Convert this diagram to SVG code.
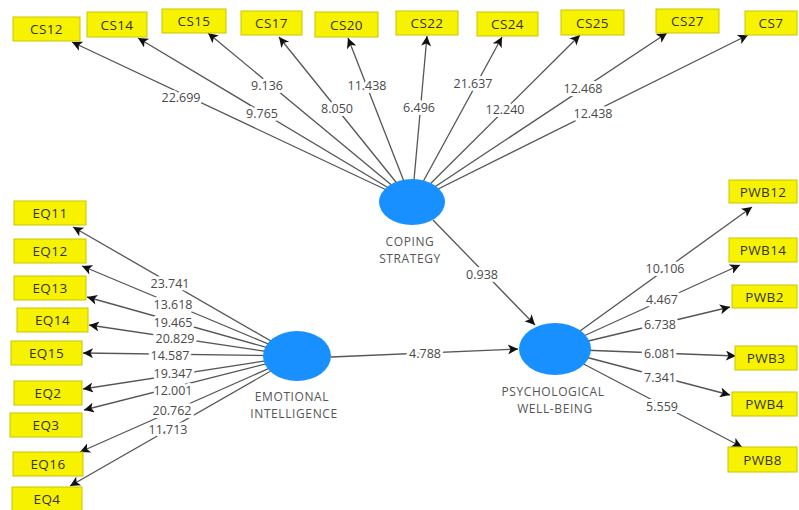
<svg xmlns="http://www.w3.org/2000/svg" width="799" height="510" viewBox="0 0 799 510">
<defs>
<marker id="ah" viewBox="0 0 10 10" refX="10" refY="5" markerWidth="12" markerHeight="10" markerUnits="userSpaceOnUse" orient="auto"><path d="M0,0 L10,5 L0,10 L2.5,5 z" fill="#111"/></marker>
<style>
.box{fill:#f7f200;stroke:#c9c400;stroke-width:1}
.bt{font-family:"Open Sans","Noto Sans",sans-serif;font-size:13.5px;fill:#333;text-anchor:middle;dominant-baseline:central;letter-spacing:0.4px}
.lv{fill:#1890ff}
.lt{font-family:"Open Sans","Noto Sans",sans-serif;font-size:12px;fill:#555;text-anchor:middle;letter-spacing:0.6px}
.e{stroke:#555;stroke-width:1.3;fill:none;marker-end:url(#ah)}
.n{font-family:"Open Sans","Noto Sans",sans-serif;font-size:12.5px;fill:#4a4a4a;text-anchor:middle;dominant-baseline:central;stroke:#fff;stroke-width:6;paint-order:stroke;stroke-linejoin:round}
</style>
</defs>
<rect width="799" height="510" fill="#fff"/>
<g id="connectors">
<line class="e" x1="412" y1="202" x2="72" y2="42"/>
<line class="e" x1="412" y1="202" x2="138" y2="38"/>
<line class="e" x1="412" y1="202" x2="208" y2="33"/>
<line class="e" x1="412" y1="202" x2="279" y2="37"/>
<line class="e" x1="412" y1="202" x2="348" y2="38"/>
<line class="e" x1="412" y1="202" x2="427" y2="36"/>
<line class="e" x1="412" y1="202" x2="502" y2="37"/>
<line class="e" x1="412" y1="202" x2="580" y2="35"/>
<line class="e" x1="412" y1="202" x2="667" y2="33"/>
<line class="e" x1="412" y1="202" x2="748" y2="35"/>
<line class="e" x1="297" y1="356" x2="73" y2="227"/>
<line class="e" x1="297" y1="356" x2="82" y2="266"/>
<line class="e" x1="297" y1="356" x2="87" y2="297"/>
<line class="e" x1="297" y1="356" x2="89" y2="325"/>
<line class="e" x1="297" y1="356" x2="83" y2="353"/>
<line class="e" x1="297" y1="356" x2="83" y2="389"/>
<line class="e" x1="297" y1="356" x2="84" y2="410"/>
<line class="e" x1="297" y1="356" x2="80" y2="452"/>
<line class="e" x1="297" y1="356" x2="70" y2="486"/>
<line class="e" x1="555" y1="349" x2="752" y2="207"/>
<line class="e" x1="555" y1="349" x2="740" y2="265"/>
<line class="e" x1="555" y1="349" x2="730" y2="307"/>
<line class="e" x1="555" y1="349" x2="736" y2="356"/>
<line class="e" x1="555" y1="349" x2="730" y2="395"/>
<line class="e" x1="555" y1="349" x2="742" y2="447"/>
<line class="e" x1="331" y1="357" x2="518" y2="349"/>
<line class="e" x1="433" y1="220" x2="535" y2="325"/>
<text class="n" x="181" y="97">22.699</text>
<text class="n" x="262" y="113">9.765</text>
<text class="n" x="267" y="85">9.136</text>
<text class="n" x="337" y="108">8.050</text>
<text class="n" x="367" y="85">11.438</text>
<text class="n" x="419" y="107">6.496</text>
<text class="n" x="473" y="83">21.637</text>
<text class="n" x="505" y="109">12.240</text>
<text class="n" x="583" y="88">12.468</text>
<text class="n" x="593" y="113">12.438</text>
<text class="n" x="170" y="283">23.741</text>
<text class="n" x="173" y="304">13.618</text>
<text class="n" x="173" y="322">19.465</text>
<text class="n" x="175" y="338">20.829</text>
<text class="n" x="170" y="355">14.587</text>
<text class="n" x="173" y="373">19.347</text>
<text class="n" x="173" y="390">12.001</text>
<text class="n" x="172" y="410">20.762</text>
<text class="n" x="168" y="429">11.713</text>
<text class="n" x="665" y="268">10.106</text>
<text class="n" x="662" y="299">4.467</text>
<text class="n" x="660" y="324">6.738</text>
<text class="n" x="660" y="353">6.081</text>
<text class="n" x="660" y="377">7.341</text>
<text class="n" x="662" y="406">5.559</text>
<text class="n" x="425" y="353">4.788</text>
<text class="n" x="482" y="274">0.938</text>
</g>
<g id="CS"><ellipse class="lv" cx="412" cy="202" rx="33" ry="23"/><text class="lt" x="410" y="246">COPING</text><text class="lt" x="410" y="262.5">STRATEGY</text></g>
<g id="EI"><ellipse class="lv" cx="297" cy="356" rx="34" ry="25"/><text class="lt" x="292" y="401">EMOTIONAL</text><text class="lt" x="294" y="417.5">INTELLIGENCE</text></g>
<g id="PWB"><ellipse class="lv" cx="555" cy="349" rx="36" ry="26"/><text class="lt" x="553" y="396">PSYCHOLOGICAL</text><text class="lt" x="555" y="412.5">WELL-BEING</text></g>
<g id="CS12"><rect class="box" x="13" y="17" width="67" height="24"/><text class="bt" x="46.5" y="29">CS12</text></g>
<g id="CS14"><rect class="box" x="87" y="12" width="60" height="25"/><text class="bt" x="117" y="24.5">CS14</text></g>
<g id="CS15"><rect class="box" x="162" y="9" width="64" height="24"/><text class="bt" x="194" y="21">CS15</text></g>
<g id="CS17"><rect class="box" x="241" y="11" width="61" height="24"/><text class="bt" x="271.5" y="23">CS17</text></g>
<g id="CS20"><rect class="box" x="315" y="12" width="63" height="25"/><text class="bt" x="346.5" y="24.5">CS20</text></g>
<g id="CS22"><rect class="box" x="396" y="11" width="62" height="24"/><text class="bt" x="427" y="23">CS22</text></g>
<g id="CS24"><rect class="box" x="477" y="12" width="61" height="24"/><text class="bt" x="507.5" y="24">CS24</text></g>
<g id="CS25"><rect class="box" x="561" y="10" width="63" height="25"/><text class="bt" x="592.5" y="22.5">CS25</text></g>
<g id="CS27"><rect class="box" x="656" y="9" width="63" height="24"/><text class="bt" x="687.5" y="21">CS27</text></g>
<g id="CS7"><rect class="box" x="745" y="11" width="52" height="24"/><text class="bt" x="771" y="23">CS7</text></g>
<g id="EQ11"><rect class="box" x="14" y="201" width="72" height="24"/><text class="bt" x="50" y="213">EQ11</text></g>
<g id="EQ12"><rect class="box" x="14" y="239" width="72" height="24"/><text class="bt" x="50" y="251">EQ12</text></g>
<g id="EQ13"><rect class="box" x="14" y="276" width="72" height="24"/><text class="bt" x="50" y="288">EQ13</text></g>
<g id="EQ14"><rect class="box" x="17" y="308" width="71" height="24"/><text class="bt" x="52.5" y="320">EQ14</text></g>
<g id="EQ15"><rect class="box" x="11" y="341" width="71" height="24"/><text class="bt" x="46.5" y="353">EQ15</text></g>
<g id="EQ2"><rect class="box" x="14" y="381" width="68" height="24"/><text class="bt" x="48" y="393">EQ2</text></g>
<g id="EQ3"><rect class="box" x="10" y="413" width="72" height="24"/><text class="bt" x="46" y="425">EQ3</text></g>
<g id="EQ16"><rect class="box" x="13" y="452" width="70" height="24"/><text class="bt" x="48" y="464">EQ16</text></g>
<g id="EQ4"><rect class="box" x="12" y="487" width="70" height="24"/><text class="bt" x="47" y="499">EQ4</text></g>
<g id="PWB12"><rect class="box" x="729" y="180" width="68" height="23"/><text class="bt" x="763" y="191.5">PWB12</text></g>
<g id="PWB14"><rect class="box" x="729" y="238" width="68" height="24"/><text class="bt" x="763" y="250">PWB14</text></g>
<g id="PWB2"><rect class="box" x="732" y="285" width="65" height="23"/><text class="bt" x="764.5" y="296.5">PWB2</text></g>
<g id="PWB3"><rect class="box" x="735" y="346" width="62" height="24"/><text class="bt" x="766" y="358">PWB3</text></g>
<g id="PWB4"><rect class="box" x="732" y="392" width="65" height="24"/><text class="bt" x="764.5" y="404">PWB4</text></g>
<g id="PWB8"><rect class="box" x="728" y="447" width="69" height="25"/><text class="bt" x="762.5" y="459.5">PWB8</text></g>
</svg>
